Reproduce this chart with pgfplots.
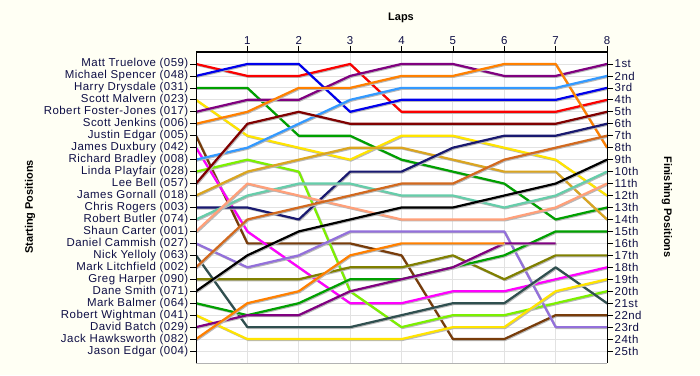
\documentclass[border=0pt]{standalone}
\usepackage{pgfplots}
\pgfplotsset{compat=1.18}
\usepackage{fontspec}
\setmainfont{Liberation Sans}[LetterSpace=4]
\newfontfamily\titlefont{Liberation Sans}
\definecolor{cream}{RGB}{255,255,244}
\definecolor{lbl}{RGB}{15,15,70}
\definecolor{gridc}{RGB}{226,226,226}
\definecolor{cRed}{RGB}{250,0,0}
\definecolor{cBlue}{RGB}{0,0,235}
\definecolor{cGreen}{RGB}{0,160,0}
\definecolor{cYellow}{RGB}{255,228,0}
\definecolor{cPurple}{RGB}{128,0,128}
\definecolor{cOrange}{RGB}{255,128,0}
\definecolor{cBrown}{RGB}{120,60,10}
\definecolor{cMagenta}{RGB}{255,0,255}
\definecolor{cDodger}{RGB}{51,153,255}
\definecolor{cLime}{RGB}{124,240,0}
\definecolor{cMaroon}{RGB}{128,0,0}
\definecolor{cGold}{RGB}{218,165,32}
\definecolor{cNavy}{RGB}{25,25,112}
\definecolor{cAqua}{RGB}{102,205,170}
\definecolor{cSalmon}{RGB}{255,160,122}
\definecolor{cMedPurple}{RGB}{147,112,219}
\definecolor{cSlate}{RGB}{47,79,79}
\definecolor{cChoc}{RGB}{210,105,30}
\definecolor{cOlive}{RGB}{128,128,0}
\definecolor{cBlack}{RGB}{0,0,0}
\begin{document}
\begin{tikzpicture}[x=1bp,y=1bp]
\path[use as bounding box, fill=cream] (0,0) rectangle (700,375);
\begin{axis}[
  at={(196bp,12bp)}, anchor=south west, scale only axis,
  width=411bp, height=311bp,
  xmin=0, xmax=8, ymin=0, ymax=26, y dir=reverse,
  axis background/.style={fill=white},
  axis line style={draw=none},
  clip mode=individual,
  xtick={1,...,8}, xtick pos=upper, xticklabel pos=upper,
  ytick={1,...,25}, ytick pos=left,
  yticklabels={Matt Truelove (059),Michael Spencer (048),Harry Drysdale (031),Scott Malvern (023),Robert Foster-Jones (017),Scott Jenkins (006),Justin Edgar (005),James Duxbury (042),Richard Bradley (008),Linda Playfair (028),Lee Bell (057),James Gornall (018),Chris Rogers (003),Robert Butler (074),Shaun Carter (001),Daniel Cammish (027),Nick Yelloly (063),Mark Litchfield (002),Greg Harper (090),Dane Smith (071),Mark Balmer (064),Robert Wightman (041),David Batch (029),Jack Hawksworth (082),Jason Edgar (004)},
  tick align=outside, major tick length=6bp,
  tick style={black, line width=0.7bp},
  grid=major, major grid style={draw=gridc, line width=0.8bp},
  tick label style={font=\fontsize{11.5}{12}\selectfont, text=lbl},
  yticklabel style={inner sep=1.5bp},
  xticklabel style={inner sep=1.5bp},
  /pgf/number format/assume math mode=true,
  every axis plot/.append style={line width=2.2bp, line join=round, mark=none,
    preaction={draw=black!28, line width=2.2bp, transform canvas={xshift=0.9bp, yshift=-0.9bp}}},
]
% Matt Truelove
\addplot[cRed] coordinates {(0,1)(1,2)(2,2)(3,1)(4,5)(5,5)(6,5)(7,5)(8,4)};
% Michael Spencer
\addplot[cBlue] coordinates {(0,2)(1,1)(2,1)(3,5)(4,4)(5,4)(6,4)(7,4)(8,3)};
% Harry Drysdale
\addplot[cGreen] coordinates {(0,3)(1,3)(2,7)(3,7)(4,9)(5,10)(6,11)(7,14)(8,13)};
% Scott Malvern
\addplot[cYellow] coordinates {(0,4)(1,7)(2,8)(3,9)(4,7)(5,7)(6,8)(7,9)(8,12)};
% Robert Foster-Jones
\addplot[cPurple] coordinates {(0,5)(1,4)(2,4)(3,2)(4,1)(5,1)(6,2)(7,2)(8,1)};
% Scott Jenkins
\addplot[cOrange] coordinates {(0,6)(1,5)(2,3)(3,3)(4,2)(5,2)(6,1)(7,1)(8,8)};
% Justin Edgar
\addplot[cBrown] coordinates {(0,7)(1,16)(2,16)(3,16)(4,17)(5,24)(6,24)(7,22)(8,22)};
% James Duxbury
\addplot[cMagenta] coordinates {(0,8)(1,15)(2,18)(3,21)(4,21)(5,20)(6,20)(7,19)(8,18)};
% Richard Bradley
\addplot[cDodger] coordinates {(0,9)(1,8)(2,6)(3,4)(4,3)(5,3)(6,3)(7,3)(8,2)};
% Linda Playfair
\addplot[cLime] coordinates {(0,10)(1,9)(2,10)(3,20)(4,23)(5,22)(6,22)(7,21)(8,20)};
% Lee Bell
\addplot[cMaroon] coordinates {(0,11)(1,6)(2,5)(3,6)(4,6)(5,6)(6,6)(7,6)(8,5)};
% James Gornall
\addplot[cGold] coordinates {(0,12)(1,10)(2,9)(3,8)(4,8)(5,9)(6,10)(7,10)(8,14)};
% Chris Rogers
\addplot[cNavy] coordinates {(0,13)(1,13)(2,14)(3,10)(4,10)(5,8)(6,7)(7,7)(8,6)};
% Robert Butler
\addplot[cAqua] coordinates {(0,14)(1,12)(2,11)(3,11)(4,12)(5,12)(6,13)(7,12)(8,10)};
% Shaun Carter
\addplot[cSalmon] coordinates {(0,15)(1,11)(2,12)(3,13)(4,14)(5,14)(6,14)(7,13)(8,11)};
% Daniel Cammish
\addplot[cMedPurple] coordinates {(0,16)(1,18)(2,17)(3,15)(4,15)(5,15)(6,15)(7,23)(8,23)};
% Nick Yelloly
\addplot[cSlate] coordinates {(0,17)(1,23)(2,23)(3,23)(4,22)(5,21)(6,21)(7,18)(8,21)};
% Mark Litchfield
\addplot[cChoc] coordinates {(0,18)(1,14)(2,13)(3,12)(4,11)(5,11)(6,9)(7,8)(8,7)};
% Greg Harper
\addplot[cOlive] coordinates {(0,19)(1,19)(2,19)(3,18)(4,18)(5,17)(6,19)(7,17)(8,17)};
% Dane Smith
\addplot[cBlack] coordinates {(0,20)(1,17)(2,15)(3,14)(4,13)(5,13)(6,12)(7,11)(8,9)};
% Mark Balmer
\addplot[cGreen] coordinates {(0,21)(1,22)(2,21)(3,19)(4,19)(5,18)(6,17)(7,15)(8,15)};
% Robert Wightman
\addplot[cYellow] coordinates {(0,22)(1,24)(2,24)(3,24)(4,24)(5,23)(6,23)(7,20)(8,19)};
% David Batch
\addplot[cPurple] coordinates {(0,23)(1,22)(2,22)(3,20)(4,19)(5,18)(6,16)(7,16)};
% Jack Hawksworth
\addplot[cOrange] coordinates {(0,24)(1,21)(2,20)(3,17)(4,16)(5,16)(6,16)};
% axis lines
\draw[black, line width=1bp] (axis cs:0,0) -- (axis cs:0,26);
\draw[black, line width=1bp] (axis cs:8,0) -- (axis cs:8,26);
\draw[black, line width=1.6bp] (axis cs:0,0) -- (axis cs:8,0);
\draw[black!30, line width=0.8bp] (axis cs:0,26) -- (axis cs:8,26);
\end{axis}
\begin{axis}[
  at={(196bp,12bp)}, anchor=south west, scale only axis,
  width=411bp, height=311bp,
  xmin=0, xmax=8, ymin=0, ymax=26, y dir=reverse,
  axis line style={draw=none},
  xtick=\empty,
  ytick={1,...,25}, ytick pos=right, yticklabel pos=right,
  yticklabels={1st,2nd,3rd,4th,5th,6th,7th,8th,9th,10th,11th,12th,13th,14th,15th,16th,17th,18th,19th,20th,21st,22nd,23rd,24th,25th},
  tick align=outside, major tick length=6bp,
  tick style={black, line width=0.7bp},
  tick label style={font=\fontsize{11.5}{12}\selectfont, text=lbl},
  yticklabel style={inner sep=1.5bp},
]
\end{axis}
\node[font=\titlefont\bfseries\fontsize{11}{12}\selectfont, text=black] at (401,357) {Laps};
\node[font=\titlefont\bfseries\fontsize{11}{12}\selectfont, rotate=90, text=black] at (30,168) {Starting Positions};
\node[font=\titlefont\bfseries\fontsize{11}{12}\selectfont, rotate=-90, text=black] at (667,168) {Finishing Positions};
\end{tikzpicture}
\end{document}
